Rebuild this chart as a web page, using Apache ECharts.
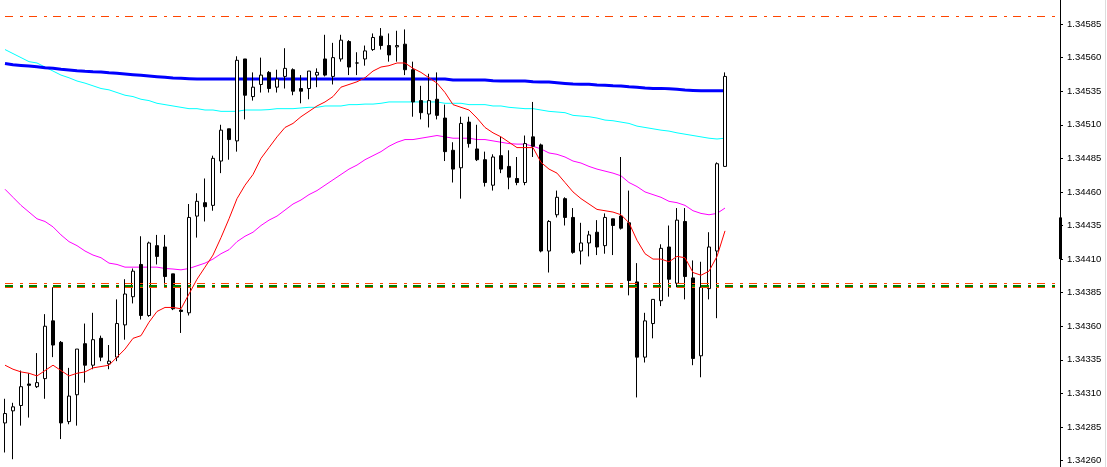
<!DOCTYPE html>
<html>
<head>
<meta charset="utf-8">
<script src="https://cdn.jsdelivr.net/npm/echarts@6/dist/echarts.min.js"></script>
<style>
html,body{margin:0;padding:0;background:#fff;}
#chart{width:1107px;height:467px;}
</style>
</head>
<body>
<div id="chart"></div>
<script>
// ---- data (prices) ----
const slotCount = 132; // visible bar slots across the plot
const opens = [1.34288,1.34297,1.34301,1.34317,1.34315,1.34321,1.34364,1.34348,1.34289,1.34309,1.34347,1.34331,1.34351,1.34332,1.34337,1.34361,1.34382,1.34406,1.34368,1.34420,1.34419,1.34399,1.34372,1.34370,1.34442,1.34452,1.34450,1.34483,1.34507,1.34498,1.34559,1.34531,1.34540,1.34549,1.34538,1.34546,1.34551,1.34537,1.34537,1.34547,1.34559,1.34546,1.34559,1.34572,1.34556,1.34559,1.34566,1.34576,1.34569,1.34568,1.34570,1.34551,1.34528,1.34518,1.34529,1.34515,1.34491,1.34478,1.34512,1.34492,1.34484,1.34465,1.34487,1.34479,1.34470,1.34467,1.34501,1.34495,1.34416,1.34443,1.34455,1.34441,1.34416,1.34422,1.34430,1.34420,1.34440,1.34442,1.34437,1.34393,1.34337,1.34362,1.34379,1.34419,1.34392,1.34438,1.34396,1.34338,1.34388,1.34416,1.34479];
const closes = [1.34295,1.34300,1.34315,1.34316,1.34318,1.34360,1.34346,1.34288,1.34308,1.34343,1.34331,1.34350,1.34337,1.34334,1.34362,1.34384,1.34401,1.34368,1.34422,1.34412,1.34397,1.34373,1.34371,1.34441,1.34453,1.34449,1.34485,1.34506,1.34499,1.34558,1.34532,1.34538,1.34547,1.34537,1.34544,1.34552,1.34535,1.34535,1.34550,1.34549,1.34547,1.34560,1.34573,1.34553,1.34556,1.34565,1.34575,1.34569,1.34562,1.34569,1.34551,1.34527,1.34519,1.34528,1.34517,1.34490,1.34477,1.34511,1.34496,1.34484,1.34467,1.34486,1.34477,1.34471,1.34467,1.34496,1.34494,1.34416,1.34438,1.34456,1.34441,1.34415,1.34422,1.34428,1.34419,1.34441,1.34435,1.34433,1.34394,1.34337,1.34364,1.34380,1.34418,1.34395,1.34439,1.34397,1.34336,1.34389,1.34419,1.34481,1.34546];
const lows = [1.34266,1.34261,1.34286,1.34292,1.34314,1.34306,1.34337,1.34276,1.34287,1.34286,1.34318,1.34328,1.34334,1.34328,1.34334,1.34350,1.34377,1.34365,1.34367,1.34406,1.34391,1.34372,1.34355,1.34368,1.34426,1.34438,1.34446,1.34474,1.34484,1.34490,1.34514,1.34528,1.34534,1.34534,1.34534,1.34537,1.34532,1.34526,1.34529,1.34538,1.34546,1.34540,1.34557,1.34547,1.34547,1.34554,1.34565,1.34566,1.34557,1.34557,1.34547,1.34516,1.34514,1.34508,1.34514,1.34483,1.34467,1.34455,1.34493,1.34483,1.34464,1.34461,1.34474,1.34462,1.34465,1.34465,1.34486,1.34415,1.34400,1.34441,1.34435,1.34414,1.34406,1.34412,1.34413,1.34414,1.34413,1.34432,1.34383,1.34307,1.34333,1.34351,1.34375,1.34382,1.34389,1.34380,1.34331,1.34322,1.34380,1.34366,1.34479];
const highs = [1.34306,1.34303,1.34327,1.34325,1.34340,1.34369,1.34389,1.34349,1.34329,1.34343,1.34362,1.34370,1.34353,1.34346,1.34380,1.34395,1.34403,1.34427,1.34423,1.34428,1.34428,1.34399,1.34390,1.34451,1.34459,1.34470,1.34487,1.34510,1.34507,1.34561,1.34559,1.34549,1.34560,1.34550,1.34551,1.34567,1.34552,1.34547,1.34550,1.34552,1.34577,1.34571,1.34577,1.34573,1.34564,1.34569,1.34578,1.34582,1.34578,1.34580,1.34581,1.34557,1.34539,1.34548,1.34549,1.34525,1.34497,1.34516,1.34516,1.34510,1.34490,1.34488,1.34501,1.34491,1.34486,1.34502,1.34527,1.34496,1.34439,1.34461,1.34456,1.34448,1.34437,1.34431,1.34439,1.34444,1.34440,1.34486,1.34461,1.34407,1.34370,1.34380,1.34421,1.34435,1.34448,1.34448,1.34409,1.34408,1.34430,1.34482,1.34549];

const maRed = [1.34331,1.34328,1.34326,1.34325,1.34323,1.34327,1.34331,1.34327,1.34323,1.34325,1.34326,1.34329,1.34330,1.34331,1.34337,1.34343,1.34351,1.34353,1.34363,1.34371,1.34374,1.34374,1.34373,1.34384,1.34395,1.34404,1.34413,1.34426,1.34440,1.34455,1.34465,1.34473,1.34485,1.34493,1.34501,1.34508,1.34511,1.34516,1.34520,1.34524,1.34527,1.34531,1.34538,1.34540,1.34542,1.34545,1.34550,1.34553,1.34554,1.34556,1.34556,1.34552,1.34549,1.34545,1.34541,1.34534,1.34525,1.34523,1.34521,1.34515,1.34508,1.34504,1.34501,1.34497,1.34493,1.34493,1.34493,1.34482,1.34477,1.34474,1.34467,1.34460,1.34455,1.34451,1.34447,1.34446,1.34445,1.34443,1.34437,1.34424,1.34414,1.34410,1.34410,1.34408,1.34412,1.34411,1.34400,1.34398,1.34401,1.34412,1.34431];
const maMagenta = [1.34462,1.34456,1.34450,1.34445,1.34440,1.34438,1.34434,1.34428,1.34423,1.34420,1.34416,1.34413,1.34411,1.34407,1.34406,1.34404,1.34404,1.34404,1.34404,1.34404,1.34403,1.344026,1.34402,1.34403,1.34405,1.34407,1.34410,1.34414,1.34417,1.34423,1.34427,1.34430,1.34435,1.34439,1.34442,1.344465,1.34451,1.34454,1.34458,1.34461,1.34465,1.34469,1.34473,1.34477,1.34480,1.34484,1.34487,1.34490,1.34494,1.34497,1.34499,1.34499,1.34500,1.34501,1.34502,1.34501,1.34500,1.34500,1.34500,1.34499,1.34499,1.34498,1.34497,1.34496,1.344956,1.344956,1.34494,1.34492,1.34489,1.34488,1.34486,1.34483,1.344815,1.34479,1.34477,1.344755,1.34474,1.34472,1.34467,1.34464,1.34460,1.34458,1.34456,1.34453,1.34452,1.34450,1.34446,1.34444,1.34443,1.34444,1.34448];
const maCyan = [1.34566,1.34563,1.34560,1.34557,1.34556,1.34553,1.34550,1.34547,1.34545,1.345426,1.34541,1.34539,1.34537,1.34536,1.34534,1.34532,1.34531,1.34529,1.34528,1.34526,1.34525,1.34524,1.34523,1.34522,1.34522,1.34521,1.34521,1.34520,1.34520,1.34520,1.34521,1.34521,1.34521,1.345213,1.34522,1.34522,1.34522,1.345225,1.34523,1.34523,1.34524,1.34524,1.34524,1.34525,1.34525,1.345254,1.345254,1.34526,1.34527,1.34527,1.34527,1.34527,1.34527,1.34527,1.34527,1.34526,1.34526,1.34526,1.34525,1.34525,1.34525,1.34524,1.34524,1.34523,1.345225,1.34522,1.34522,1.34521,1.34520,1.345195,1.34519,1.34517,1.345165,1.34516,1.34515,1.345135,1.34513,1.34512,1.34511,1.34509,1.34508,1.34507,1.34506,1.345053,1.34504,1.34503,1.34502,1.34501,1.34500,1.344994,1.34500];
const maBlue = [1.345556,1.345547,1.345542,1.345537,1.345532,1.345525,1.345520,1.345513,1.345508,1.345502,1.345498,1.345495,1.345493,1.345487,1.345483,1.345478,1.345473,1.345468,1.345463,1.345458,1.345453,1.345448,1.345446,1.345443,1.345440,1.345440,1.345440,1.345440,1.345440,1.345440,1.345440,1.345440,1.345440,1.345440,1.345440,1.345440,1.345440,1.345440,1.345440,1.345440,1.345440,1.345440,1.345440,1.345440,1.345440,1.345440,1.345440,1.345440,1.345440,1.345440,1.345440,1.345440,1.345440,1.345440,1.345440,1.345440,1.345433,1.345433,1.345433,1.345433,1.345433,1.345428,1.345426,1.345426,1.345426,1.345426,1.345420,1.345418,1.345418,1.345413,1.345408,1.345403,1.345401,1.345401,1.345396,1.345394,1.345391,1.345389,1.345383,1.345380,1.345373,1.345371,1.345371,1.345368,1.345364,1.345359,1.345356,1.345353,1.345353,1.345353,1.345353];

const tickValues = [1.34260,1.34285,1.34310,1.34335,1.34360,1.34385,1.34410,1.34435,1.34460,1.34485,1.34510,1.34535,1.34560,1.34585];
const yRange = [1.342552, 1.346029];
const lastPrice = 1.34546;
const topLevel = 1.345906;
const lowerLevels = [1.3439182, 1.3438996, 1.3438884];
const depthBar = [1.34410, 1.34441];

// ---- build ----
const categories = [];
for (let i = 0; i < slotCount; i++) categories.push(String(i));
const candles = opens.map((o, i) => [o, closes[i], lows[i], highs[i]]);

const dash = [8, 7, 3, 6];
const chart = echarts.init(document.getElementById('chart'), null, {renderer: 'canvas'});
const font = 'Liberation Sans';

chart.setOption({
  animation: false,
  backgroundColor: '#ffffff',
  grid: {left: 1, right: 50, top: 0, bottom: 0, containLabel: false},
  xAxis: {type: 'category', data: categories, show: false, boundaryGap: true},
  yAxis: {
    type: 'value', position: 'right', offset: 3,
    min: yRange[0], max: yRange[1],
    axisLine: {show: true, lineStyle: {color: '#000', width: 1}},
    axisTick: {show: true, length: 3, customValues: tickValues, lineStyle: {color: '#000'}},
    axisLabel: {customValues: tickValues, formatter: v => v.toFixed(5), margin: 7,
                color: '#000', fontFamily: font, fontSize: 9.5},
    splitLine: {show: false}
  },
  series: [
    {
      type: 'line', data: maMagenta, showSymbol: false, symbol: 'none',
      lineStyle: {color: '#ff00ff', width: 1}, z: 2
    },
    {
      type: 'line', data: maCyan, showSymbol: false, symbol: 'none',
      lineStyle: {color: '#00ffff', width: 1}, z: 2
    },
    {
      type: 'line', data: maBlue, showSymbol: false, symbol: 'none',
      lineStyle: {color: '#0000ff', width: 3}, z: 2
    },
    {
      type: 'candlestick', data: candles, barWidth: 4, z: 3, clip: false,
      itemStyle: {color: '#ffffff', color0: '#000000', borderColor: '#000000', borderColor0: '#000000', borderWidth: 1},
      markLine: {
        silent: true, symbol: ['none', 'none'], animation: false, precision: 7,
        label: {show: false},
        data: [
          {yAxis: topLevel, lineStyle: {color: '#ff4500', width: 1, type: dash, dashOffset: 20}},
          {yAxis: lowerLevels[0], lineStyle: {color: '#ff4500', width: 1, type: dash, dashOffset: 20}},
          {yAxis: lowerLevels[1], lineStyle: {color: '#008000', width: 2, type: dash, dashOffset: 20}},
          {yAxis: lowerLevels[2], lineStyle: {color: '#ff4500', width: 1, type: dash, dashOffset: 20}},
          {yAxis: lastPrice, lineStyle: {opacity: 0, width: 0},
           label: {show: true, position: 'end', distance: 5, formatter: () => lastPrice.toFixed(5),
                   color: '#fff', backgroundColor: '#000', padding: [1, 4, 0, 4],
                   fontFamily: font, fontSize: 9.5, lineHeight: 10}}
        ]
      }
    },
    {
      type: 'line', data: maRed, showSymbol: false, symbol: 'none',
      lineStyle: {color: '#ff0000', width: 1}, z: 4
    }
  ]
});

// depth bar on the price axis and window border
const yTop = chart.convertToPixel({yAxisIndex: 0}, depthBar[1]);
const yBot = chart.convertToPixel({yAxisIndex: 0}, depthBar[0]);
chart.setOption({
  graphic: [
    {type: 'rect', shape: {x: 1059, y: yTop, width: 3, height: yBot - yTop}, style: {fill: '#000'}, z: 100},
    {type: 'line', shape: {x1: 1105.5, y1: 0, x2: 1105.5, y2: 467}, style: {stroke: '#dddddd', lineWidth: 1}, z: 100}
  ]
});
</script>
</body>
</html>
